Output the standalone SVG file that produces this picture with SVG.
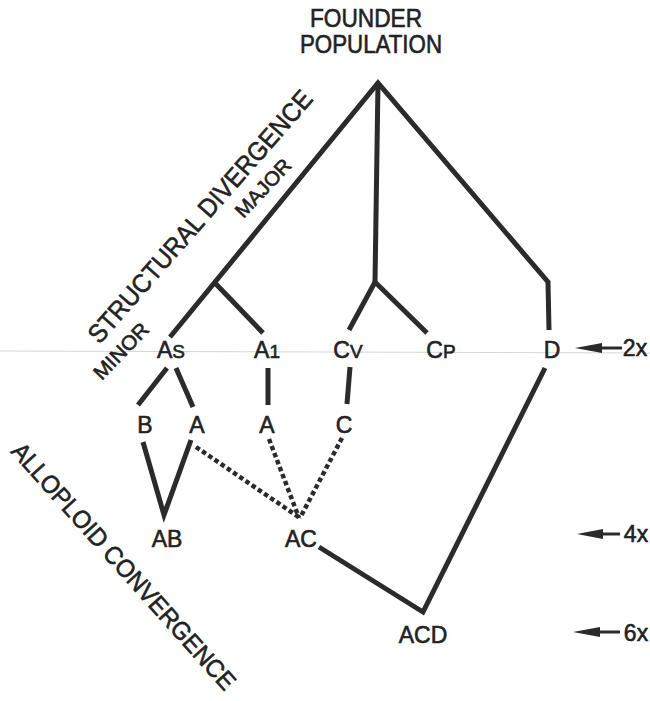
<svg xmlns="http://www.w3.org/2000/svg" width="650" height="701" viewBox="0 0 650 701">
<style>
.ln{fill:none;stroke:#2b2b2b;stroke-width:5;stroke-linecap:butt;stroke-linejoin:miter}
.dt{fill:none;stroke:#2b2b2b;stroke-width:4.5;stroke-dasharray:4.5 3}
text{stroke:#222;stroke-width:0.6}
.lb{font-family:"Liberation Sans",Arial,sans-serif;font-size:23px;fill:#222;text-anchor:middle}
.sm{font-size:19px}
.hd{font-family:"Liberation Sans",Arial,sans-serif;font-size:25px;fill:#222;text-anchor:middle}
.rt{font-family:"Liberation Sans",Arial,sans-serif;fill:#222;text-anchor:middle}
.ar{fill:#2b2b2b;stroke:none}
</style>
<rect width="650" height="701" fill="#ffffff"/>
<line x1="0" y1="351" x2="650" y2="353" stroke="#d6d6d6" stroke-width="1"/>

<g id="connectors">
<polyline class="ln" points="170,337 378,83 548,282 549,330"/>
<polyline class="ln" points="215,283 263,333"/>
<polyline class="ln" points="378,83 375,282"/>
<polyline class="ln" points="349,330 375,282 427,333"/>
<polyline class="ln" points="138,405 167,368"/>
<polyline class="ln" points="176,368 193,407"/>
<polyline class="ln" points="268,368 268,405"/>
<polyline class="ln" points="350,367 347,404"/>
<polyline class="ln" points="143,442 164,515 191,440"/>
<polyline class="ln" points="319,547 423,612 545,368"/>
<line class="dt" x1="196" y1="447" x2="300" y2="518"/>
<line class="dt" x1="269" y1="439" x2="299" y2="518"/>
<line class="dt" x1="342" y1="438" x2="300" y2="518"/>
</g>

<g id="founder">
<text class="hd" x="366" y="27" textLength="112" lengthAdjust="spacingAndGlyphs">FOUNDER</text>
<text class="hd" x="371" y="53" textLength="142" lengthAdjust="spacingAndGlyphs">POPULATION</text>
</g>

<g id="node-As"><text class="lb" x="171" y="358">A<tspan class="sm">S</tspan></text></g>
<g id="node-A1"><text class="lb" x="267" y="358">A<tspan class="sm">1</tspan></text></g>
<g id="node-Cv"><text class="lb" x="348" y="358">C<tspan class="sm">V</tspan></text></g>
<g id="node-CP"><text class="lb" x="441" y="358">C<tspan class="sm">P</tspan></text></g>
<g id="node-D"><text class="lb" x="552" y="358">D</text></g>
<g id="node-B"><text class="lb" x="145" y="433">B</text></g>
<g id="node-A-a"><text class="lb" x="197" y="433">A</text></g>
<g id="node-A-b"><text class="lb" x="267" y="433">A</text></g>
<g id="node-C"><text class="lb" x="344" y="433">C</text></g>
<g id="node-AB"><text class="lb" x="167" y="547">AB</text></g>
<g id="node-AC"><text class="lb" x="301" y="547">AC</text></g>
<g id="node-ACD"><text class="lb" x="423" y="643">ACD</text></g>

<g id="label-structural">
<text class="rt" font-size="26" transform="translate(200,216.5) rotate(-48.8)" dy="9" textLength="326" lengthAdjust="spacingAndGlyphs">STRUCTURAL DIVERGENCE</text>
</g>
<g id="label-major">
<text class="rt" font-size="20" transform="translate(263,188) rotate(-47)" dy="7" textLength="72" lengthAdjust="spacingAndGlyphs">MAJOR</text>
</g>
<g id="label-minor">
<text class="rt" font-size="20" transform="translate(121,351) rotate(-46)" dy="7" textLength="70" lengthAdjust="spacingAndGlyphs">MINOR</text>
</g>
<g id="label-alloploid">
<text class="rt" font-size="25" transform="translate(124,566) rotate(48.2)" dy="9" textLength="322" lengthAdjust="spacingAndGlyphs">ALLOPLOID CONVERGENCE</text>
</g>

<g id="ploidy-2x">
<polygon class="ar" points="575,348 602,343 602,353"/>
<line x1="600" y1="348" x2="622" y2="348" stroke="#2b2b2b" stroke-width="3"/>
<text class="lb" x="635" y="356">2x</text>
</g>
<g id="ploidy-4x">
<polygon class="ar" points="577,534 603,529 603,539"/>
<line x1="601" y1="534" x2="620" y2="534" stroke="#2b2b2b" stroke-width="3"/>
<text class="lb" x="636" y="542">4x</text>
</g>
<g id="ploidy-6x">
<polygon class="ar" points="573,632 600,627 600,637"/>
<line x1="598" y1="632" x2="620" y2="632" stroke="#2b2b2b" stroke-width="3"/>
<text class="lb" x="636" y="641">6x</text>
</g>
</svg>
